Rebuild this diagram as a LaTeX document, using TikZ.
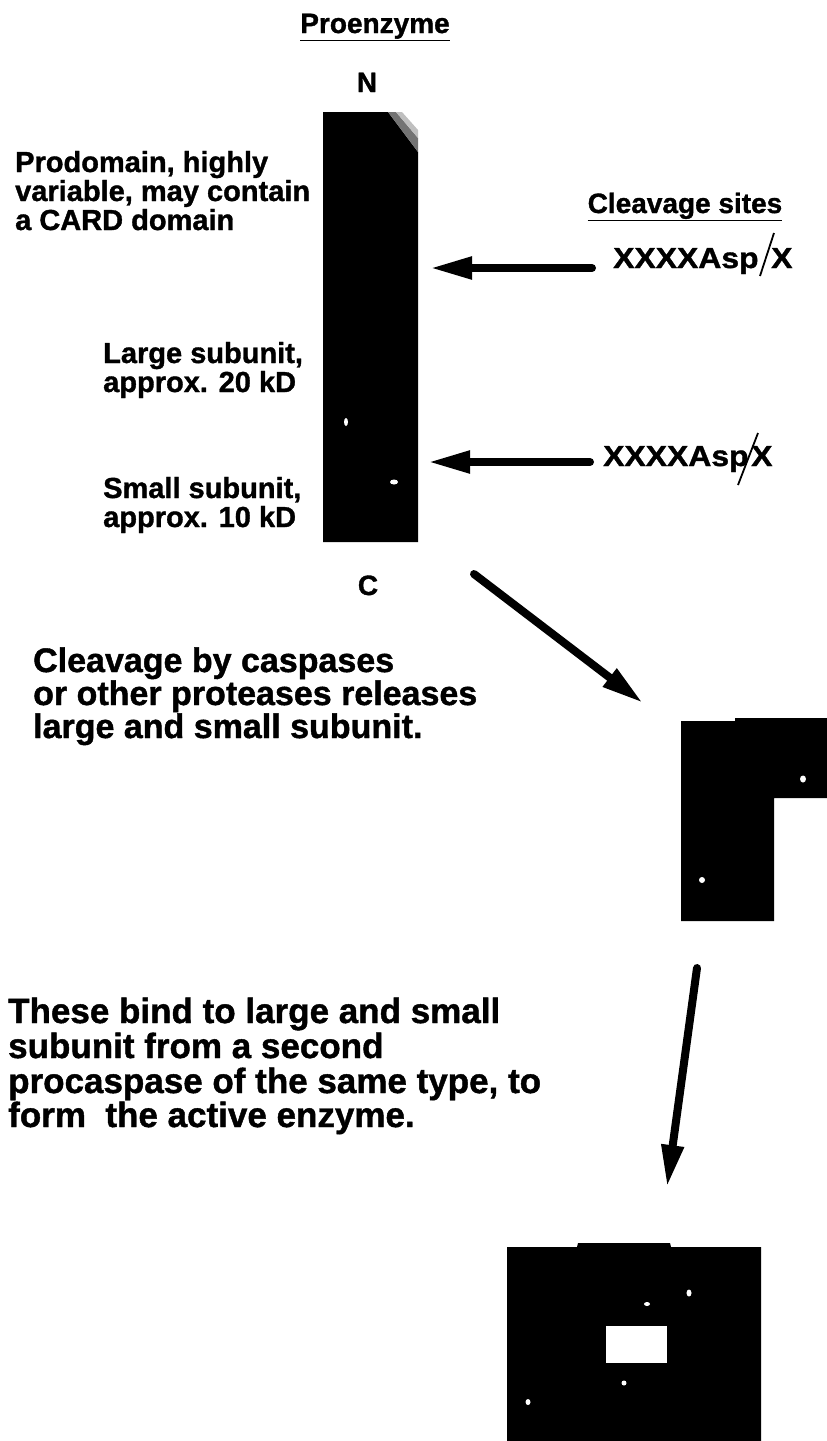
\documentclass[tikz,border=0pt]{standalone}
\usepackage{fontspec}
\setmainfont{Liberation Sans}[BoldFeatures={FakeBold=1.2}]
\usetikzlibrary{arrows.meta}
\begin{document}
\begin{tikzpicture}[x=1pt,y=-1pt,
  lbl/.style={inner sep=0pt, anchor=base west, font=\bfseries\fontsize{29}{30}\selectfont},
  big/.style={inner sep=0pt, anchor=base west, font=\bfseries\fontsize{34}{33}\selectfont},
  huge/.style={inner sep=0pt, anchor=base west, font=\bfseries\fontsize{35}{35}\selectfont},
  head/.style={inner sep=0pt, anchor=base, font=\bfseries\fontsize{28}{30}\selectfont},
  site/.style={inner sep=0pt, anchor=base west, font=\bfseries\fontsize{29}{30}\selectfont},
  arr/.style={line width=8pt, line cap=round, -{Triangle[length=42pt,width=21pt]}},
  slash/.style={line width=1.8pt},
  speck/.style={fill=white, draw=none}]
\useasboundingbox (0,0) rectangle (827,1441);
\fill[white] (0,0) rectangle (827,1441);

% Headings
\node[head] (proenz) at (375,33) {\underline{Proenzyme}};
\node[head] (nterm) at (367,92) {N};
\node[head] (cterm) at (368,595) {C};
\node[head] (cleav) at (685,213) {\underline{Cleavage sites}};

% Proenzyme bar
\fill[black] (323,112) -- (388,112) -- (418,152) -- (418,542) -- (323,542) -- cycle;
\fill[black!55] (388,112) -- (396,112) -- (418,138) -- (418,152) -- cycle;
\fill[black!25] (396,112) -- (402,112) -- (418,130) -- (418,138) -- cycle;
\fill[speck] (346,422) ellipse (2pt and 4pt);
\fill[speck] (394,482) ellipse (4pt and 2.5pt);

% Left labels
\node[lbl] (pd1) at (15,172) {Prodomain, highly};
\node[lbl] (pd2) at (15,201) {variable, may contain};
\node[lbl] (pd3) at (15,230) {a CARD domain};
\node[lbl] (ls1) at (103,363) {Large subunit,};
\node[lbl] (ls2) at (103,392) {approx. 20 kD};
\node[lbl] (ss1) at (103,498) {Small subunit,};
\node[lbl] (ss2) at (103,527) {approx. 10 kD};

% Cleavage sites
\node[site] (s1) at (613,268) {\scalebox{1.1}[1]{XXXXAsp}};
\node[site] (s1x) at (771,268) {\scalebox{1.1}[1]{X}};
\draw[slash] (774,233) -- (760,276);
\node[site] (s2) at (603,466) {\scalebox{1.1}[1]{XXXXAsp}};
\node[site] (s2x) at (751,466) {\scalebox{1.1}[1]{X}};
\draw[slash] (758,433) -- (738,485);

\coordinate (a1s) at (592,268);
\coordinate (a1e) at (430,268);
\coordinate (a2s) at (590,462);
\coordinate (a2e) at (428,462);
\draw[arr] (a1s) -- (a1e);
\draw[arr] (a2s) -- (a2e);

% Middle text
\node[big] (c1) at (33,672) {Cleavage by caspases};
\node[big] (c2) at (33,705) {or other proteases releases};
\node[big] (c3) at (33,738) {large and small subunit.};

% Diagonal arrow
\coordinate (d1s) at (474,574);
\coordinate (d1e) at (643,703);
\draw[arr] (d1s) -- (d1e);

% L-shaped dimer
\fill[black] (681,721) -- (735,721) -- (735,718) -- (827,718) -- (827,798) -- (774,798) -- (774,921) -- (681,921) -- cycle;
\fill[speck] (803,779) ellipse (3pt and 3.5pt);
\fill[speck] (702,880) ellipse (3pt and 3pt);

% Bottom text
\node[huge] (t1) at (8,1023) {These bind to large and small};
\node[huge] (t2) at (8,1058) {subunit from a second};
\node[huge] (t3) at (8,1093) {procaspase of the same type, to};
\node[huge] (t4) at (8,1127) {form\ \ the active enzyme.};

% Vertical arrow
\coordinate (v1s) at (697,968);
\coordinate (v1e) at (667,1187);
\draw[arr] (v1s) -- (v1e);

% Active enzyme
\fill[black] (507,1247) -- (577,1247) -- (578,1243) -- (670,1243) -- (671,1247) -- (761,1247) -- (761,1441) -- (507,1441) -- cycle;
\fill[white] (606,1326) rectangle (667,1363);
\fill[speck] (647,1304) ellipse (3pt and 2pt);
\fill[speck] (689,1293) ellipse (2.5pt and 3.5pt);
\fill[speck] (624,1383) ellipse (2.5pt and 2.5pt);
\fill[speck] (528,1402) ellipse (2.5pt and 3pt);
\end{tikzpicture}
\end{document}
